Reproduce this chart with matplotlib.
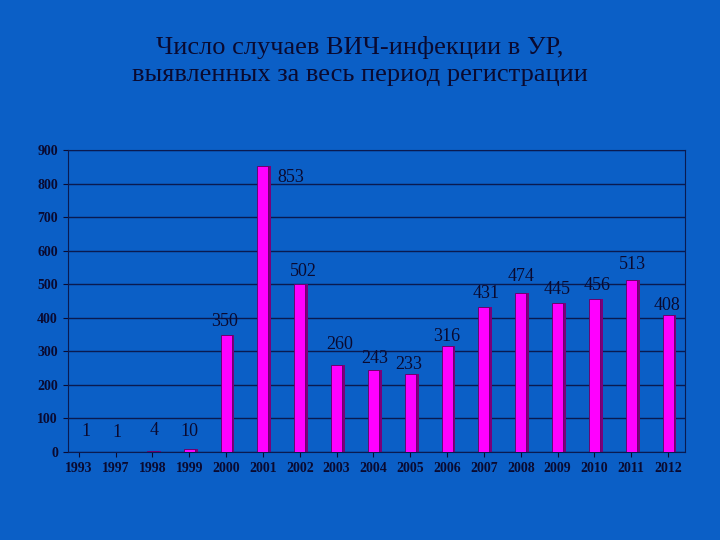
import matplotlib
matplotlib.use("Agg")
import matplotlib.pyplot as plt

years = ["1993","1997","1998","1999","2000","2001","2002","2003","2004","2005",
         "2006","2007","2008","2009","2010","2011","2012"]
cases = [1,1,4,10,350,853,502,260,243,233,316,431,474,445,456,513,408]
# label offsets in pixels (dx, dy) from bar top
offs = [(7,20),(1,19),(2,20),(0,17),(-2,13),(28,-12),(4,12),(3,20),(1,12),(-2,9),
        (0,9),(2,14),(0,17),(-1,13),(3,14),(1,15),(-1,10)]

bg = "#0b5fc6"
fig = plt.figure(figsize=(7.2,5.4), dpi=100, facecolor=bg)
fig.text(0.5, 0.887, "Число случаев ВИЧ-инфекции в УР,\nвыявленных за весь период регистрации",
         ha="center", va="center", fontsize=19, family="Liberation Serif",
         color="#0a0a30", linespacing=1.25)
ax = fig.add_axes([0.094, 0.163, 0.857, 0.559], facecolor=bg)
x = range(len(years))
ax.bar([i+0.06 for i in x], cases, width=0.33, color="#7a007a", zorder=2)
ax.bar(x, cases, width=0.3, color="#ff00ff", edgecolor="#600060", linewidth=0.6, zorder=3)
ax.set_ylim(0, 900)
ax.set_xlim(-0.3, len(years)-0.55)
ax.set_yticks(range(0, 901, 100))
ax.yaxis.grid(True, color="#0a1a50", linewidth=1)
ax.set_axisbelow(True)
ax.set_xticks(list(x))
ax.set_xticklabels(years)
for s in ax.spines.values():
    s.set_color("#0a1a50")
ax.tick_params(colors="#0a0a30", labelsize=10)
for lab in ax.get_xticklabels()+ax.get_yticklabels():
    lab.set_fontweight("bold"); lab.set_family("Liberation Serif")
for i,(v,(dx,dy)) in enumerate(zip(cases, offs)):
    ax.annotate(str(v), (i, v), xytext=(dx*0.72, dy*0.72), textcoords="offset points",
                ha="center", va="center", fontsize=13, family="Liberation Serif",
                color="#0a0a30")
fig.savefig("out.png", dpi=100, facecolor=bg)
